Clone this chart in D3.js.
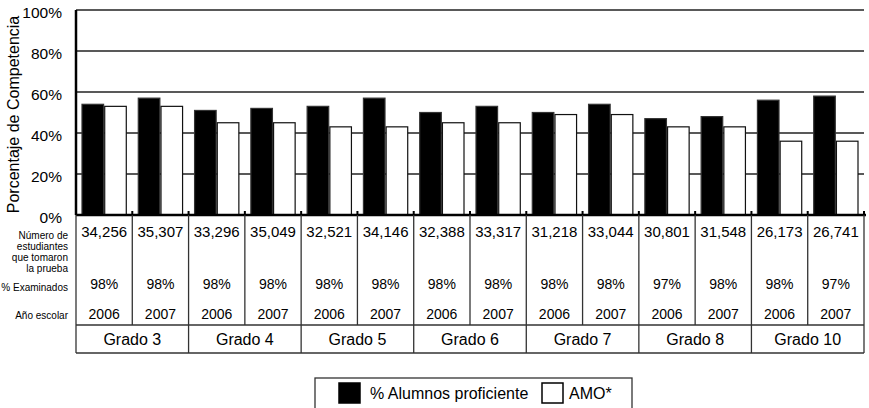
<!DOCTYPE html>
<html><head><meta charset="utf-8">
<script src="https://cdn.jsdelivr.net/npm/d3@7/dist/d3.min.js"></script>
<style>body{margin:0;background:#fff}svg{display:block;font-family:Arial,"Liberation Sans",sans-serif}</style>
</head><body><svg id="c" width="869" height="408"></svg>
<script>
const grades = ["Grado 3","Grado 4","Grado 5","Grado 6","Grado 7","Grado 8","Grado 10"];
const years = ["2006","2007","2006","2007","2006","2007","2006","2007","2006","2007","2006","2007","2006","2007"];
const proficient = [54,57,51,52,53,57,50,53,50,54,47,48,56,58];
const amo = [53,53,45,45,43,43,45,45,49,49,43,43,36,36];
const students = ["34,256","35,307","33,296","35,049","32,521","34,146","32,388","33,317","31,218","33,044","30,801","31,548","26,173","26,741"];
const examined = ["98%","98%","98%","98%","98%","98%","98%","98%","98%","98%","97%","98%","98%","97%"];
const yTicks = [0,20,40,60,80,100];
const seriesNames = ["% Alumnos proficiente","AMO*"];

const svg = d3.select("#c");
const L = 76, R = 864, T = 10, B = 215;
const idx = d3.range(years.length);
const x = d3.scaleBand().domain(idx).range([L, R]).padding(0);
const y = d3.scaleLinear().domain([0,100]).range([B, T]);
const xs = d3.scaleBand().domain([0,1]).range([6, x.bandwidth()-6]).paddingInner(0.05);

// gridlines
svg.append("g").selectAll("line").data(yTicks.filter(d=>d>0)).join("line")
  .attr("x1", L).attr("x2", R).attr("y1", d=>y(d)).attr("y2", d=>y(d))
  .attr("stroke", "#222").attr("stroke-width", 1.4);

// y labels
svg.append("g").selectAll("text").data(yTicks).join("text")
  .attr("x", 62).attr("y", d=>y(d)+3).attr("dy","0.35em").attr("text-anchor","end")
  .attr("font-size", 15.5).text(d=>d+"%");

svg.append("text").attr("transform", `translate(19,${(T+B)/2+2}) rotate(-90)`)
  .attr("text-anchor","middle").attr("font-size",16).text("Porcentaje de Competencia");

// bars
const series = [proficient, amo];
series.forEach((arr, s) => {
  svg.append("g").selectAll("rect").data(idx).join("rect")
    .attr("x", i => x(i) + xs(s))
    .attr("width", xs.bandwidth())
    .attr("y", i => y(arr[i]))
    .attr("height", i => y(0) - y(arr[i]))
    .attr("fill", s===0 ? "#000" : "#fff")
    .attr("stroke", s===0 ? "#333" : "#111").attr("stroke-width", 1.2);
});

// axes lines
svg.append("line").attr("x1",L).attr("x2",L).attr("y1",T).attr("y2",B).attr("stroke","#000").attr("stroke-width",2.5);
svg.append("line").attr("x1",L).attr("x2",R+2).attr("y1",B).attr("y2",B).attr("stroke","#000").attr("stroke-width",2.5);
// small ticks at bottom
svg.append("g").selectAll("line").data(d3.range(1, years.length+1)).join("line")
  .attr("x1", i => i<years.length ? x(i) : R).attr("x2", i => i<years.length ? x(i) : R)
  .attr("y1", B-4).attr("y2", B).attr("stroke","#000").attr("stroke-width",2);

// table
const rowNumY = 232, rowPctY = 284, rowYearY = 314.5, gradeTop = 325, gradeBot = 353;
const tbl = svg.append("g");
tbl.selectAll("line.v").data(d3.range(0, years.length+1)).join("line")
  .attr("x1", i => i<years.length ? x(i) : R).attr("x2", i => i<years.length ? x(i) : R)
  .attr("y1", B).attr("y2", i => i%2===0 ? gradeBot : gradeTop)
  .attr("stroke","#333").attr("stroke-width",1.3);
tbl.append("line").attr("x1",L).attr("x2",R).attr("y1",gradeTop).attr("y2",gradeTop).attr("stroke","#333").attr("stroke-width",1.3);
tbl.append("line").attr("x1",L).attr("x2",R).attr("y1",gradeBot).attr("y2",gradeBot).attr("stroke","#333").attr("stroke-width",1.3);

const cellText = (arr, yy, fs) => tbl.append("g").selectAll("text").data(idx).join("text")
  .attr("x", i => x(i) + x.bandwidth()/2).attr("y", yy).attr("dy","0.35em")
  .attr("text-anchor","middle").attr("font-size",fs).text(i => arr[i]);
cellText(students, rowNumY, 15);
cellText(examined, rowPctY, 14);
cellText(years, rowYearY, 14);

tbl.append("g").selectAll("text").data(grades).join("text")
  .attr("x", (d,g) => x(g*2) + x.bandwidth()).attr("y", (gradeTop+gradeBot)/2).attr("dy","0.35em")
  .attr("text-anchor","middle").attr("font-size",16).text(d=>d);

// row labels
const rl = svg.append("g").attr("font-size",10).attr("text-anchor","end");
["Número de","estudiantes","que tomaron","la prueba"].forEach((t,k)=>{
  rl.append("text").attr("x",68).attr("y",235+k*11).attr("dy","0.35em").text(t);
});
rl.append("text").attr("x",68).attr("y",287).attr("dy","0.35em").text("% Examinados");
rl.append("text").attr("x",68).attr("y",315).attr("dy","0.35em").text("Año escolar");

// legend
const lg = svg.append("g");
lg.append("rect").attr("x",315).attr("y",378).attr("width",317).attr("height",34).attr("fill","#fff").attr("stroke","#333").attr("stroke-width",1.3);
const lx = [339, 542], tx = [370, 569];
seriesNames.forEach((n,s)=>{
  lg.append("rect").attr("x",lx[s]).attr("y",383).attr("width",21).attr("height",20)
    .attr("fill", s===0?"#000":"#fff").attr("stroke","#000").attr("stroke-width",1.5);
  lg.append("text").attr("x",tx[s]).attr("y",393).attr("dy","0.35em").attr("font-size",16).text(n);
});
</script></body></html>
